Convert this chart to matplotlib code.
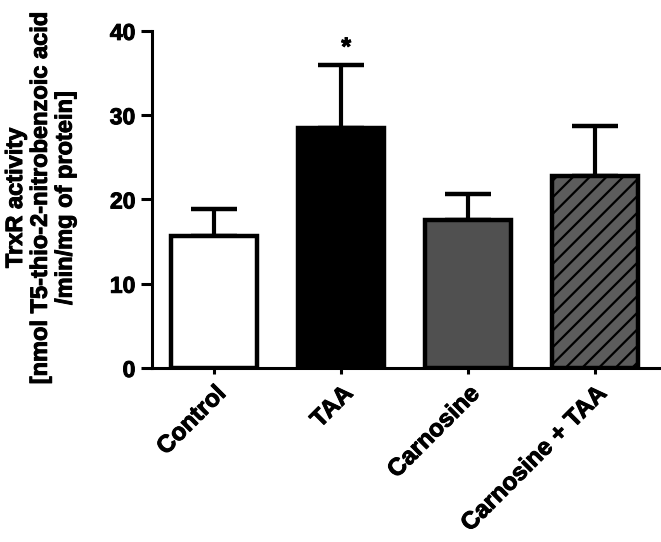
import numpy as np
import matplotlib
matplotlib.use("Agg")
import matplotlib.pyplot as plt
import matplotlib.transforms as mtransforms
import matplotlib.patheffects as pe

# data
groups = ["Control", "TAA", "Carnosine", "Carnosine + TAA"]
means = [15.7, 28.5, 17.6, 22.8]
sem = [3.2, 7.5, 3.0, 5.9]
colors = ["white", "black", "#505050", "#5c5c5c"]
hatches = ["", "", "", "//"]
yticks = [0, 10, 20, 30, 40]

plt.rcParams["font.family"] = ["Liberation Sans", "DejaVu Sans"]
plt.rcParams["font.weight"] = "bold"
plt.rcParams["hatch.linewidth"] = 1.6

heavy = [pe.withStroke(linewidth=0.7, foreground="black")]

fig = plt.figure(figsize=(6.61, 5.42), dpi=100)
ax = fig.add_axes([0.23, 0.321, 0.768, 0.622])

x = np.arange(len(groups))
ax.errorbar(x, means, yerr=[np.zeros(len(sem)), sem], fmt="none",
            ecolor="black", elinewidth=3, capsize=16.5, capthick=3.2, zorder=1)
for i in range(len(groups)):
    ax.bar(x[i], means[i], width=0.68, color=colors[i], edgecolor="black",
           linewidth=3.2, hatch=hatches[i], zorder=2)

ax.text(x[1] + 0.04, 38.0, "*", ha="center", va="center", fontsize=18,
        fontweight="bold", path_effects=heavy)

ax.set_xlim(-0.49, 3.51)
ax.set_ylim(0, 40)
ax.set_yticks(yticks)
ax.set_xticks(x)
ax.set_xticklabels(groups, rotation=45, ha="right", rotation_mode="anchor", fontsize=17.5)
# nudge the rotated labels a bit to the right like in the original
offset = mtransforms.ScaledTranslation(10 / 100, 0, fig.dpi_scale_trans)
for lab in ax.get_xticklabels():
    lab.set_transform(lab.get_transform() + offset)
    lab.set_path_effects(heavy)
ax.tick_params(axis="y", direction="out", length=8, width=2.2, labelsize=16.5, pad=4)
ax.tick_params(axis="x", direction="out", length=4, width=2.2, pad=6)
for lab in ax.get_yticklabels():
    lab.set_path_effects(heavy)

for s in ["top", "right"]:
    ax.spines[s].set_visible(False)
for s in ["left", "bottom"]:
    ax.spines[s].set_linewidth(2.2)

fig.text(0.061, 0.635, "TrxR activity\n[nmol T5-thio-2-nitrobenzoic acid\n/min/mg of protein]",
         rotation=90, ha="center", va="center", fontsize=17, fontweight="bold",
         linespacing=1.1, multialignment="center", path_effects=heavy)

fig.savefig("out.png", dpi=100)
